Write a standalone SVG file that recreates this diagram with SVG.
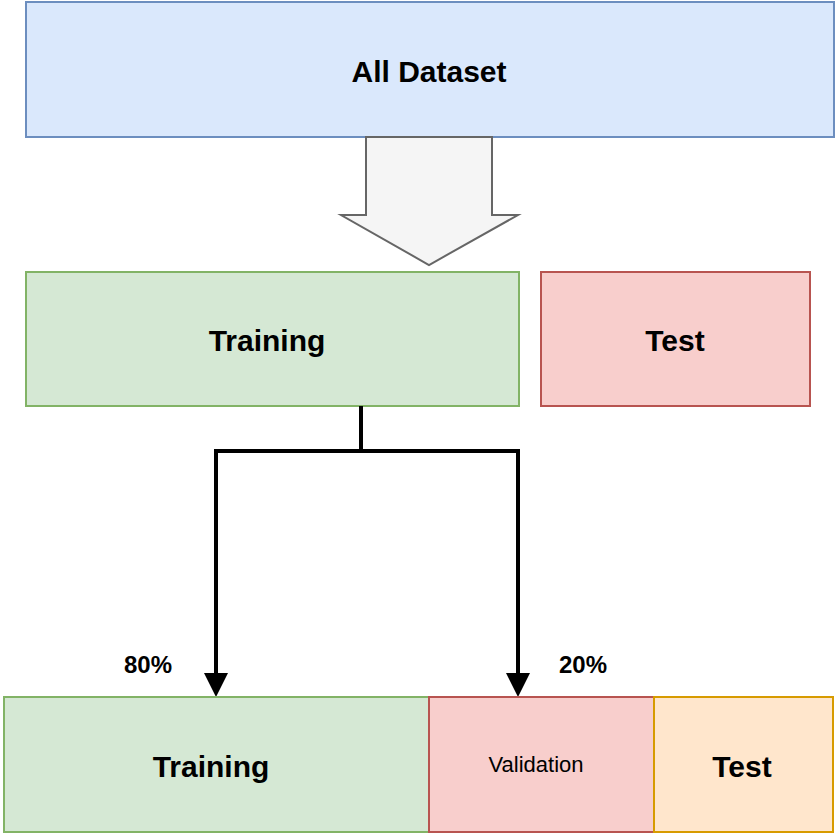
<svg xmlns="http://www.w3.org/2000/svg" width="836" height="836" viewBox="0 0 836 836">
<style>
text{font-family:"Liberation Sans",Arial,sans-serif;font-weight:bold;fill:#000;text-anchor:middle;dominant-baseline:central}
.b{stroke-width:2}
.c{fill:none;stroke:#000;stroke-width:4}
</style>
<defs><marker id="ah" markerWidth="6" markerHeight="6" refX="5" refY="3" orient="auto" markerUnits="strokeWidth"><path d="M0,0 L6,3 L0,6 Z" fill="#000"/></marker></defs>
<rect width="836" height="836" fill="#fff"/>
<g id="all"><rect class="b" x="26" y="2" width="808" height="135" fill="#dae8fc" stroke="#6c8ebf"/><text x="429" y="71" font-size="30">All Dataset</text></g>
<g id="bigarrow"><path class="b" d="M366,137 H492 V215 H518 L429,265 L341,215 H366 Z" fill="#f5f5f5" stroke="#666"/></g>
<g id="training1"><rect class="b" x="26" y="272" width="493" height="134" fill="#d5e8d4" stroke="#82b366"/><text x="267" y="340" font-size="30">Training</text></g>
<g id="test1"><rect class="b" x="541" y="272" width="269" height="134" fill="#f8cecc" stroke="#b85450"/><text x="675" y="340" font-size="30">Test</text></g>
<g id="connectors">
<path class="c" d="M361,406 V451 H216 V693" marker-end="url(#ah)"/>
<path class="c" d="M361,451 H518 V693" marker-end="url(#ah)"/>
<text x="148" y="664" font-size="24">80%</text>
<text x="583" y="664" font-size="24">20%</text>
</g>
<g id="training2"><rect class="b" x="4" y="697" width="425" height="135" fill="#d5e8d4" stroke="#82b366"/><text x="211" y="766" font-size="30">Training</text></g>
<g id="validation"><rect class="b" x="429" y="697" width="225" height="135" fill="#f8cecc" stroke="#b85450"/><text x="536" y="764" font-size="22" style="font-weight:normal">Validation</text></g>
<g id="test2"><rect class="b" x="654" y="697" width="179" height="135" fill="#ffe6cc" stroke="#d79b00"/><text x="742" y="766" font-size="30">Test</text></g>
</svg>
